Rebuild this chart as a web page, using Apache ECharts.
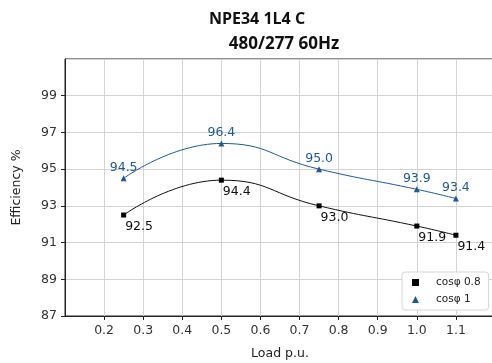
<!DOCTYPE html>
<html>
<head>
<meta charset="utf-8">
<script src="https://cdn.jsdelivr.net/npm/echarts@6/dist/echarts.min.js"></script>
<style>
  html, body { margin: 0; padding: 0; background: #fff; }
  #chart { width: 492px; height: 363px; }
</style>
</head>
<body>
<div id="chart"></div>
<script>
// load points (p.u.)
const LOAD = [0.25, 0.5, 0.75, 1.0, 1.1];
// efficiency values
const EFF_08 = [92.5, 94.4, 93.0, 91.9, 91.4];
const EFF_10 = [94.5, 96.4, 95.0, 93.9, 93.4];
const SERIES_NAMES = ['cosφ 0.8', 'cosφ 1'];

const BLUE = '#1a5a9c';
const FONT = 'DejaVu Sans';

const chart = echarts.init(document.getElementById('chart'));

const pairs = (ys) => LOAD.map((x, i) => [x, ys[i]]);

chart.setOption({
  backgroundColor: '#fff',
  animation: false,
  title: [
    {
      text: 'NPE34 1L4 C',
      left: 252, top: 6, textAlign: 'center',
      textStyle: { fontFamily: 'Open Sans', fontWeight: 'bold', fontSize: 16, color: '#111' }
    },
    {
      text: '480/277 60Hz',
      left: 279, top: 31, textAlign: 'center',
      textStyle: { fontFamily: 'Open Sans', fontWeight: 'bold', fontSize: 17, color: '#111' }
    }
  ],
  grid: {
    left: 65, top: 59, width: 430, bottom: 47,
    outerBoundsMode: 'none',
    show: true, borderColor: '#222', borderWidth: 1, backgroundColor: 'transparent'
  },
  legend: {
    orient: 'vertical',
    left: 402, top: 272,
    padding: [5, 8, 5, 10],
    itemGap: 6,
    itemWidth: 7, itemHeight: 7,
    backgroundColor: '#fff',
    borderColor: '#d6d6d6', borderWidth: 1, borderRadius: 3,
    textStyle: { fontFamily: FONT, fontSize: 10.5, color: '#222', padding: [0, 0, 0, 12] },
    data: [
      { name: SERIES_NAMES[0], icon: 'rect' },
      { name: SERIES_NAMES[1], icon: 'triangle' }
    ]
  },
  xAxis: {
    type: 'value',
    min: 0.1, max: 1.2, interval: 0.1,
    name: 'Load p.u.',
    nameLocation: 'middle', nameGap: 31,
    nameTextStyle: { fontFamily: FONT, fontSize: 12.5, color: '#222' },
    axisLine: { show: true, lineStyle: { color: '#222', width: 1 } },
    axisTick: { show: true, length: 4, lineStyle: { color: '#222' } },
    axisLabel: {
      fontFamily: FONT, fontSize: 12.5, color: '#333', margin: 8,
      showMinLabel: false, showMaxLabel: false,
      formatter: (v) => v.toFixed(1)
    },
    splitLine: { show: true, lineStyle: { color: '#d3d3d3', width: 1 } }
  },
  yAxis: {
    type: 'value',
    min: 87, max: 101, interval: 2,
    name: 'Efficiency %',
    nameLocation: 'middle', nameGap: 42,
    nameTextStyle: { fontFamily: FONT, fontSize: 12.5, color: '#222' },
    axisLine: { show: true, lineStyle: { color: '#222', width: 1 } },
    axisTick: { show: true, length: 4, lineStyle: { color: '#222' } },
    axisLabel: {
      fontFamily: FONT, fontSize: 12.5, color: '#333', margin: 8,
      showMaxLabel: false
    },
    splitLine: { show: true, lineStyle: { color: '#d3d3d3', width: 1 } }
  },
  series: [
    {
      name: SERIES_NAMES[0],
      type: 'line',
      data: pairs(EFF_08),
      smooth: 0.5,
      symbol: 'rect', symbolSize: 5,
      lineStyle: { color: '#111', width: 1 },
      itemStyle: { color: '#000' },
      label: {
        show: true,
        position: [4, 8],
        align: 'left', verticalAlign: 'top',
        fontFamily: FONT, fontSize: 12.5, color: '#111',
        formatter: (p) => p.value[1].toFixed(1)
      }
    },
    {
      name: SERIES_NAMES[1],
      type: 'line',
      data: pairs(EFF_10),
      smooth: 0.5,
      symbol: 'triangle', symbolSize: 6,
      lineStyle: { color: BLUE, width: 1 },
      itemStyle: { color: BLUE },
      label: {
        show: true,
        position: 'top', distance: 1,
        fontFamily: FONT, fontSize: 12.5, color: BLUE,
        formatter: (p) => p.value[1].toFixed(1)
      }
    }
  ]
});
</script>
</body>
</html>
